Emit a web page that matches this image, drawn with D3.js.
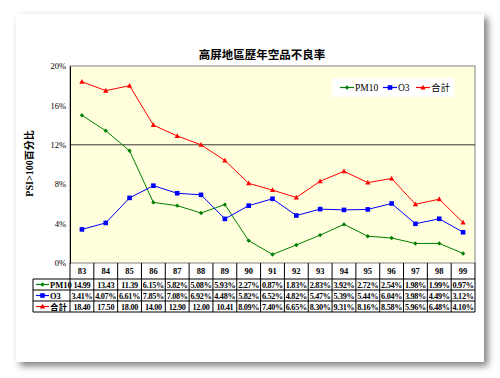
<!DOCTYPE html>
<html>
<head>
<meta charset="utf-8">
<script src="https://cdn.jsdelivr.net/npm/d3@7"></script>
<style>
  body { margin: 0; background: #fff; }
  svg text { font-family: "Liberation Serif", "Noto Sans CJK TC", serif; }
</style>
</head>
<body>
<div id="chart"></div>
<script>
// Data
const years = ['83','84','85','86','87','88','89','90','91','92','93','94','95','96','97','98','99']
const pm10 = [14.99,13.43,11.39,6.15,5.82,5.08,5.93,2.27,0.87,1.83,2.83,3.92,2.72,2.54,1.98,1.99,0.97]
const o3 = [3.41,4.07,6.61,7.85,7.08,6.92,4.48,5.82,6.52,4.82,5.47,5.39,5.44,6.04,3.98,4.49,3.12]
const total = [18.40,17.50,18.00,14.00,12.90,12.00,10.41,8.09,7.40,6.65,8.30,9.31,8.16,8.58,5.96,6.48,4.10]
const pm10Labels = ['14.99','13.43','11.39','6.15%','5.82%','5.08%','5.93%','2.27%','0.87%','1.83%','2.83%','3.92%','2.72%','2.54%','1.98%','1.99%','0.97%']
const o3Labels = ['3.41%','4.07%','6.61%','7.85%','7.08%','6.92%','4.48%','5.82%','6.52%','4.82%','5.47%','5.39%','5.44%','6.04%','3.98%','4.49%','3.12%']
const totalLabels = ['18.40','17.50','18.00','14.00','12.90','12.00','10.41','8.09%','7.40%','6.65%','8.30%','9.31%','8.16%','8.58%','5.96%','6.48%','4.10%']
const yTicks = [0,4,8,12,16,20]
const seriesNames = ['PM10','O3','合計']

const series = [
  {name: seriesNames[0], values: pm10, labels: pm10Labels, color: '#008000', marker: 'diamond'},
  {name: seriesNames[1], values: o3, labels: o3Labels, color: '#0000ff', marker: 'square'},
  {name: seriesNames[2], values: total, labels: totalLabels, color: '#ff0000', marker: 'triangle'},
]

// Dimensions
const width = 500, height = 378
const plot = {left: 70, right: 475, top: 66, bottom: 263}
const tableLeft = 33
const rowH = [16, 11, 11, 11]

const svg = d3.select('#chart').append('svg')
  .attr('width', width).attr('height', height)

const defs = svg.append('defs')
const f = defs.append('filter').attr('id', 'shadow')
  .attr('x', '-5%').attr('y', '-5%').attr('width', '115%').attr('height', '115%')
f.append('feDropShadow').attr('dx', 4).attr('dy', 4).attr('stdDeviation', 3.5)
  .attr('flood-color', '#000').attr('flood-opacity', 0.5)

// card
svg.append('rect')
  .attr('x', 16).attr('y', 14).attr('width', 468).attr('height', 348)
  .attr('fill', '#fff').attr('filter', 'url(#shadow)')

// Scales
const xScale = d3.scaleBand().domain(years).range([plot.left, plot.right])
const yScale = d3.scaleLinear().domain([0, 20]).range([plot.bottom, plot.top])

// plot area
svg.append('rect')
  .attr('x', plot.left).attr('y', plot.top)
  .attr('width', plot.right - plot.left).attr('height', plot.bottom - plot.top)
  .attr('fill', '#ffffdd').attr('stroke', '#808080').attr('stroke-width', 1)

// gridline at 12%
svg.append('line')
  .attr('x1', plot.left).attr('x2', plot.right)
  .attr('y1', yScale(12)).attr('y2', yScale(12))
  .attr('stroke', '#000').attr('stroke-width', 0.8)

// y axis
const yAxis = d3.axisLeft(yScale).tickValues(yTicks).tickSize(0).tickPadding(4)
  .tickFormat(d => d + '%')
const yAxisGroup = svg.append('g')
  .attr('transform', `translate(${plot.left},0)`)
  .call(yAxis)
yAxisGroup.select('.domain').attr('stroke', '#000')
yAxisGroup.selectAll('text').attr('font-size', 8.5).attr('fill', '#000')
  .style('font-family', '"Liberation Serif", serif')

// title
svg.append('text')
  .attr('x', 262).attr('y', 59)
  .attr('text-anchor', 'middle')
  .attr('font-size', 11.5).attr('font-weight', 'bold')
  .style('font-family', '"Noto Sans CJK TC", sans-serif')
  .text('高屏地區歷年空品不良率')

// y label
svg.append('text')
  .attr('transform', `translate(33,${(plot.top + plot.bottom) / 2 - 1}) rotate(-90)`)
  .attr('text-anchor', 'middle')
  .attr('font-size', 10).attr('font-weight', 'bold')
  .text('PSI>100百分比')

// marker drawing
function drawMarker(g, type, color, x, y) {
  if (type === 'diamond') {
    g.append('path').attr('d', `M${x},${y-2.2}L${x+2.2},${y}L${x},${y+2.2}L${x-2.2},${y}Z`).attr('fill', color)
  } else if (type === 'square') {
    g.append('rect').attr('x', x - 2.3).attr('y', y - 2.3).attr('width', 4.6).attr('height', 4.6).attr('fill', color)
  } else {
    g.append('path').attr('d', `M${x},${y-2.8}L${x+2.6},${y+2}L${x-2.6},${y+2}Z`).attr('fill', color)
  }
}

// lines
const cx = d => xScale(d) + xScale.bandwidth() / 2
const lineGenerator = d3.line()
  .x((d, i) => cx(years[i]))
  .y(d => yScale(d))

series.forEach(s => {
  svg.append('path')
    .datum(s.values)
    .attr('d', lineGenerator)
    .attr('fill', 'none')
    .attr('stroke', s.color)
    .attr('stroke-width', 1)
  const g = svg.append('g')
  s.values.forEach((v, i) => drawMarker(g, s.marker, s.color, cx(years[i]), yScale(v)))
})

// legend
svg.append('rect')
  .attr('x', 332).attr('y', 78).attr('width', 122).attr('height', 19)
  .attr('fill', '#fff')
const legendX = [340, 383, 416]
series.forEach((s, i) => {
  const g = svg.append('g')
  const x = legendX[i], y = 87.5
  g.append('line').attr('x1', x).attr('x2', x + 14).attr('y1', y).attr('y2', y)
    .attr('stroke', s.color).attr('stroke-width', 1.2)
  drawMarker(g, s.marker, s.color, x + 7, y)
  g.append('text').attr('x', x + 15).attr('y', y + 3.5)
    .attr('font-size', 9.5).text(s.name)
})

// data table
const tableTop = plot.bottom
const rowY = [tableTop]
rowH.forEach((h, i) => rowY.push(rowY[i] + h))

const table = svg.append('g')
// header labels
years.forEach(y => {
  table.append('text')
    .attr('x', cx(y)).attr('y', tableTop + 11)
    .attr('text-anchor', 'middle')
    .attr('font-size', 8.5).attr('font-weight', 'bold')
    .text(y)
})
// horizontal lines
rowY.slice(1).forEach(y => {
  table.append('line')
    .attr('x1', tableLeft).attr('x2', plot.right)
    .attr('y1', y).attr('y2', y)
    .attr('stroke', '#000').attr('stroke-width', 1)
})
// vertical lines
const colEdges = years.map(y => xScale(y)).concat([plot.right])
colEdges.forEach(x => {
  table.append('line')
    .attr('x1', x).attr('x2', x)
    .attr('y1', tableTop).attr('y2', rowY[4])
    .attr('stroke', '#000').attr('stroke-width', 1)
})
table.append('line')
  .attr('x1', tableLeft).attr('x2', tableLeft)
  .attr('y1', rowY[1]).attr('y2', rowY[4])
  .attr('stroke', '#000').attr('stroke-width', 1)

series.forEach((s, r) => {
  const yMid = (rowY[r + 1] + rowY[r + 2]) / 2
  const x0 = tableLeft + 3
  table.append('line').attr('x1', x0).attr('x2', x0 + 13).attr('y1', yMid).attr('y2', yMid)
    .attr('stroke', s.color).attr('stroke-width', 1.2)
  drawMarker(table, s.marker, s.color, x0 + 6.5, yMid)
  table.append('text').attr('x', x0 + 14).attr('y', yMid + 3.2)
    .attr('font-size', 8.5).attr('font-weight', 'bold').text(s.name)
  s.labels.forEach((lab, i) => {
    table.append('text')
      .attr('x', cx(years[i])).attr('y', yMid + 3.2)
      .attr('text-anchor', 'middle')
      .attr('font-size', 8.2).attr('font-weight', 'bold')
      .attr('letter-spacing', -0.3)
      .text(lab)
  })
})
</script>
</body>
</html>
